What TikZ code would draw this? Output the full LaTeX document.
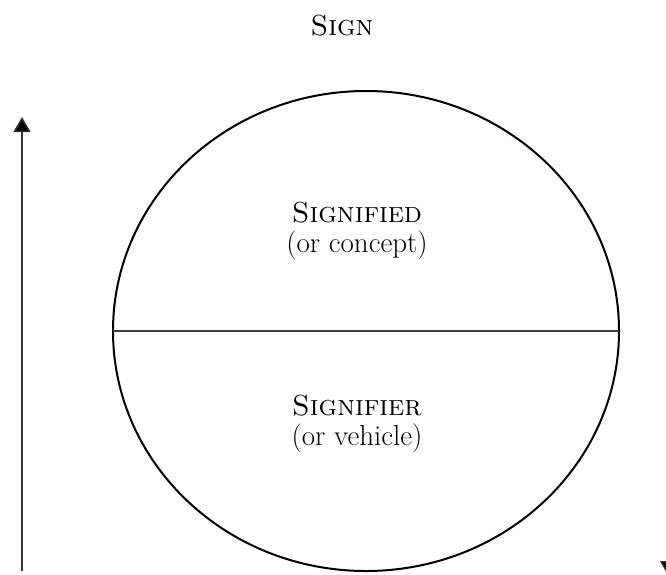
\documentclass[tikz,border=0pt]{standalone}
\usepackage{fontspec}
\usetikzlibrary{arrows.meta}
\begin{document}
\begin{tikzpicture}[x=1pt,y=-1pt,
  lbl/.style={align=center,font=\fontsize{29}{30}\selectfont,inner sep=0pt},
  axis/.style={line width=1.4pt,draw=black!80,-{Triangle[width=17pt,length=15pt,fill=black]}}]
  \clip (0,0) rectangle (666,574);
  \useasboundingbox (0,0) rectangle (666,574);
  % title
  \node[lbl] (sign) at (342,26) {\textsc{Sign}};
  % the sign: an ellipse split into two halves
  \coordinate (c) at (366,331);
  \draw[line width=2pt] (c) ellipse [x radius=253, y radius=240];
  \coordinate (l) at (113,331);
  \coordinate (r) at (619,331);
  \draw[line width=1.3pt,draw=black!75] (l) -- (r);
  \node[lbl] (sd) at (357,231) {\textsc{Signified}\\(or concept)};
  \node[lbl] (sr) at (357,424) {\textsc{Signifier}\\(or vehicle)};
  % arrows
  \coordinate (a0) at (22,571);
  \coordinate (a1) at (22,117);
  \draw[axis] (a0) -- (a1);
  \coordinate (b0) at (668.5,100);
  \coordinate (b1) at (668.5,576);
  \draw[axis] (b0) -- (b1);
\end{tikzpicture}
\end{document}
